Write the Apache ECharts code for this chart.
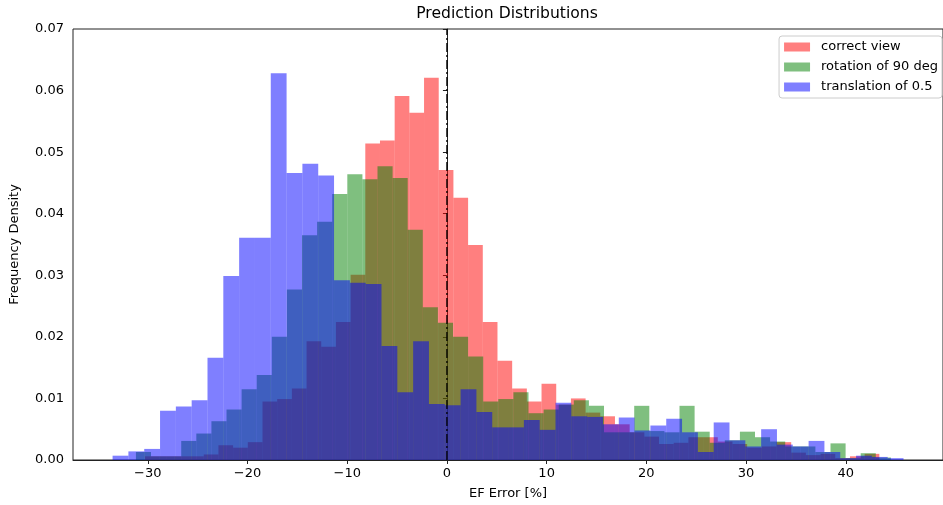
<!DOCTYPE html>
<html><head><meta charset="utf-8">
<script src="https://cdn.jsdelivr.net/npm/echarts@6/dist/echarts.min.js"></script>
<style>html,body{margin:0;padding:0;background:#fff}#c{width:943px;height:505px}</style>
</head><body><div id="c"></div>
<script>
const chartTitle = 'Prediction Distributions';
const xName = 'EF Error [%]';
const yName = 'Frequency Density';
const seriesNames = ['correct view', 'rotation of 90 deg', 'translation of 0.5'];

// histogram bin layout (first edge, bin width) in EF-error units
const redStart = -30.28, redWidth = 1.4729;
const greenStart = -31.19, greenWidth = 1.5143;
const blueStart = -33.53, blueWidth = 1.5864;

const redValues = [0.0006,0.0006,0.0006,0.0006,0.0009,0.0024,0.0020,0.0029,0.0095,0.0099,
0.0116,0.0193,0.0184,0.0224,0.0301,0.0514,0.0519,0.0591,0.0564,0.0621,
0.0471,0.0426,0.0349,0.0224,0.0161,0.0116,0.0095,0.0124,0.0090,0.0100,
0.0077,0.0071,0.0058,0.0045,0.0038,0.0026,0.0028,0.0037,0.0037,0.0030,
0.0026,0.0020,0.0022,0.0029,0.0012,0.0008,0.0010,0.0003,0.0006,0.0010];

const greenValues = [0.0013,0.0006,0.0006,0.0031,0.0043,0.0063,0.0082,0.0115,0.0138,0.0200,
0.0277,0.0365,0.0387,0.0432,0.0464,0.0456,0.0477,0.0458,0.0374,0.0248,
0.0223,0.0200,0.0168,0.0095,0.0099,0.0110,0.0076,0.0082,0.0090,0.0097,
0.0088,0.0045,0.0045,0.0088,0.0047,0.0045,0.0088,0.0046,0.0028,0.0032,
0.0046,0.0037,0.0030,0.0022,0.0022,0.0013,0.0027,0.0003,0.0011,0.0004];

const blueValues = [0.0007,0.0014,0.0018,0.0080,0.0087,0.0097,0.0166,0.0299,0.0361,0.0361,
0.0628,0.0466,0.0481,0.0462,0.0292,0.0288,0.0286,0.0185,0.0110,0.0193,
0.0091,0.0089,0.0115,0.0078,0.0053,0.0053,0.0065,0.0049,0.0093,0.0071,
0.0070,0.0058,0.0069,0.0048,0.0056,0.0067,0.0045,0.0013,0.0061,0.0032,
0.0022,0.0050,0.0025,0.0022,0.0031,0.0013,0.0003,0.0007,0.0005,0.0003];

const xTicks = [-30, -20, -10, 0, 10, 20, 30, 40];
const zeroLine = [[0, 0], [0, 0.07]];

const FONT = 'DejaVu Sans';
const colors = ['rgba(255,0,0,0.5)', 'rgba(0,128,0,0.5)', 'rgba(0,0,255,0.5)'];

function toBins(start, width, values) {
  return values.map((v, i) => [start + i * width, start + (i + 1) * width, v]);
}
function histSeries(name, color, start, width, values) {
  return {
    name: name, type: 'custom', clip: true,
    itemStyle: { color: color },
    encode: { x: [0, 1], y: 2 },
    data: toBins(start, width, values),
    renderItem: function (params, api) {
      const p0 = api.coord([api.value(0), api.value(2)]);
      const p1 = api.coord([api.value(1), 0]);
      return { type: 'rect',
        shape: { x: p0[0], y: p0[1], width: p1[0] - p0[0], height: p1[1] - p0[1] },
        style: { fill: color } };
    }
  };
}

const chart = echarts.init(document.getElementById('c'), null, { renderer: 'canvas' });
chart.setOption({
  animation: false,
  backgroundColor: '#fff',
  textStyle: { fontFamily: FONT },
  title: { text: chartTitle, left: 507, top: 6, padding: 0, textAlign: 'center',
    textStyle: { fontFamily: FONT, fontSize: 15.6, fontWeight: 'normal', color: '#000' } },
  legend: {
    data: seriesNames, orient: 'vertical', right: 1, top: 36,
    icon: 'rect', itemWidth: 26, itemHeight: 9, itemGap: 6,
    padding: [4, 4, 4, 5], borderColor: '#cccccc', borderWidth: 1, borderRadius: 3,
    backgroundColor: 'rgba(255,255,255,0.8)',
    textStyle: { fontFamily: FONT, fontSize: 13, color: '#000', lineHeight: 14, padding: [0, 0, 0, 6] }
  },
  grid: { left: 68, right: -9, top: 29, bottom: 45, show: true, borderColor: '#222', borderWidth: 1, backgroundColor: 'transparent' },
  xAxis: {
    type: 'value', min: -37.5, max: 49.75,
    name: xName, nameLocation: 'middle', nameGap: 27,
    nameTextStyle: { fontFamily: FONT, fontSize: 13, color: '#000' },
    axisLine: { lineStyle: { color: '#222', width: 1 } },
    axisTick: { show: true, length: 4, customValues: xTicks, lineStyle: { color: '#222' } },
    axisLabel: { customValues: xTicks, margin: 7, fontFamily: FONT, fontSize: 13, color: '#000',
      formatter: v => (v < 0 ? '\u2212' + Math.abs(v) : String(v)) },
    splitLine: { show: false }
  },
  yAxis: {
    type: 'value', min: 0, max: 0.07, interval: 0.01,
    name: yName, nameLocation: 'middle', nameGap: 52, nameRotate: 90,
    nameTextStyle: { fontFamily: FONT, fontSize: 13, color: '#000' },
    axisLine: { show: true, lineStyle: { color: '#222', width: 1 } },
    axisTick: { show: true, length: 4, lineStyle: { color: '#222' } },
    axisLabel: { margin: 9, fontFamily: FONT, fontSize: 13, color: '#000', formatter: v => v.toFixed(2) },
    splitLine: { show: false }
  },
  series: [
    histSeries(seriesNames[0], colors[0], redStart, redWidth, redValues),
    histSeries(seriesNames[1], colors[1], greenStart, greenWidth, greenValues),
    histSeries(seriesNames[2], colors[2], blueStart, blueWidth, blueValues),
    { name: 'zero', type: 'line', data: zeroLine, symbol: 'none', silent: true, z: 10,
      lineStyle: { color: '#000', width: 1.3, type: [9, 3, 2, 3] } }
  ]
});
</script></body></html>
